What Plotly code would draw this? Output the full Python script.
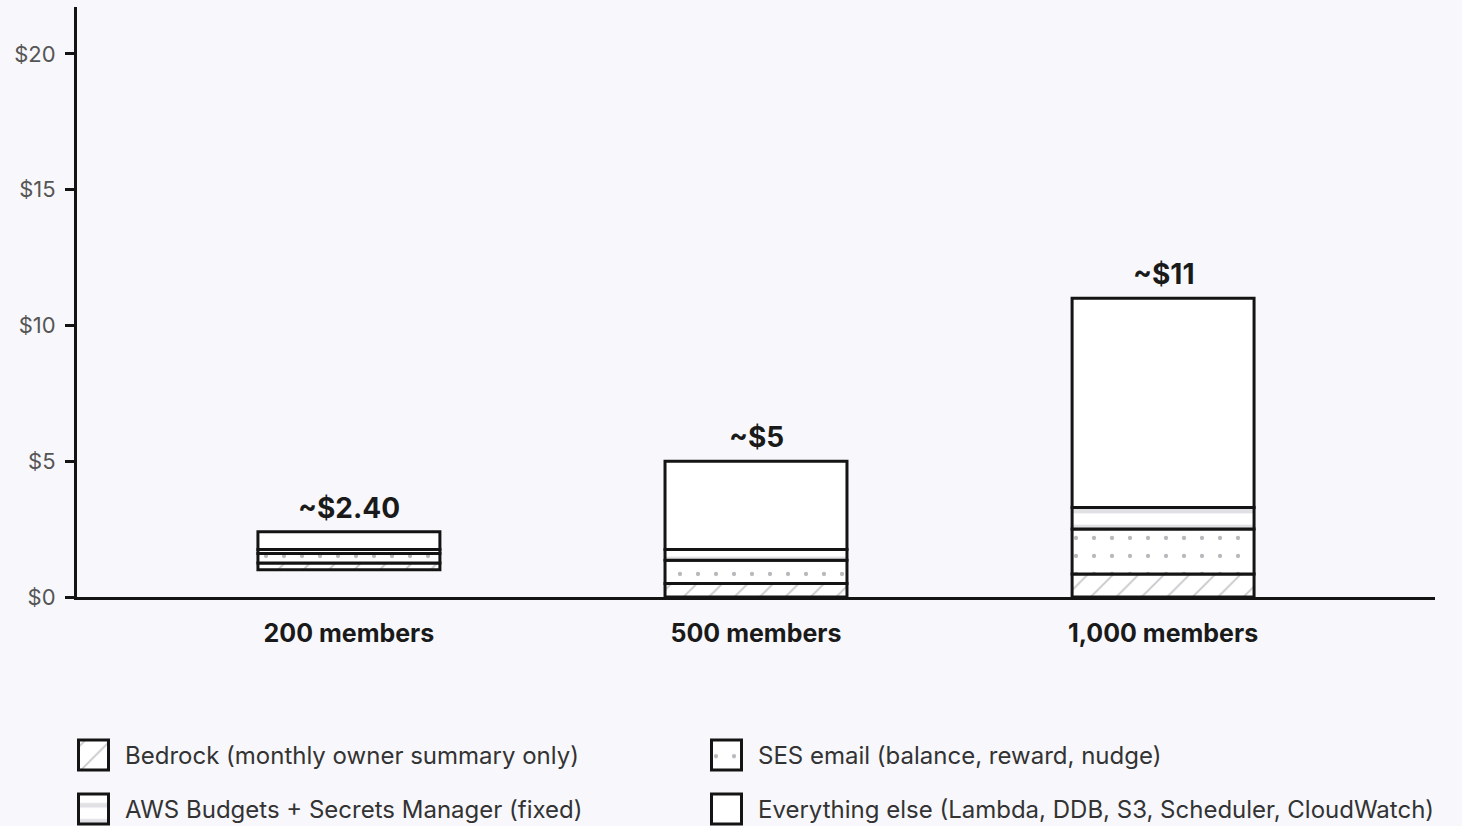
import plotly.graph_objects as go

# ---------------- data ----------------
categories = ["200 members", "500 members", "1,000 members"]
bar_offset = [1.0, 0.0, 0.0]          # the 200-member bar floats above $0 in the source
bedrock = [0.25, 0.50, 0.85]
ses = [0.35, 0.85, 1.65]
aws_fixed = [0.15, 0.40, 0.80]
everything_else = [0.65, 3.25, 7.70]
total_labels = ["~$2.40", "~$5", "~$11"]

series_names = [
    "Bedrock (monthly owner summary only)",
    "SES email (balance, reward, nudge)",
    "AWS Budgets + Secrets Manager (fixed)",
    "Everything else (Lambda, DDB, S3, Scheduler, CloudWatch)",
]
series_values = [bedrock, ses, aws_fixed, everything_else]

y_ticks = [0, 5, 10, 15, 20]
y_tick_labels = ["$0", "$5", "$10", "$15", "$20"]

# ---------------- styles ----------------
BG = "#f8f8fc"
INK = "#141414"
FONT = "Inter"
patterns = [
    dict(shape="/", fgcolor="#8e8e96", bgcolor="white", size=18, solidity=0.1),
    dict(shape=".", fgcolor="#74747c", bgcolor="white", size=18, solidity=0.045),
    dict(shape="-", fgcolor="#c4c4cc", bgcolor="white", size=16, solidity=0.3),
    dict(shape="", fgcolor="white", bgcolor="white"),
]

W, H = 1462, 826
ML, MR, MT, MB = 77, 27, 7, 0
plot_h = H - MT - MB
axis_bottom_px = 597
main_domain_bottom = (H - MB - axis_bottom_px) / plot_h
y_top = 21.73

fig = go.Figure()

# main stacked bars with explicit bases
running = list(bar_offset)
for name, vals, pat in zip(series_names, series_values, patterns):
    fig.add_trace(go.Bar(
        x=categories, y=vals, base=list(running), width=0.447,
        name=name, showlegend=False,
        marker=dict(color="white", pattern=pat, line=dict(color=INK, width=3)),
        xaxis="x", yaxis="y", hoverinfo="skip",
    ))
    running = [r + v for r, v in zip(running, vals)]

# total labels above bars
for cat, tot, lab in zip(categories, running, total_labels):
    fig.add_annotation(x=cat, y=tot, text=f"<b>{lab}</b>", showarrow=False,
                       xref="x", yref="y", yanchor="bottom", yshift=5,
                       font=dict(family=FONT, size=28, color="#1a1a1a"))

# ---------------- custom legend (swatches on a helper axis in pixel units) ----------------
leg_dom_top = 0.25
leg_range_top = leg_dom_top * plot_h
col_x = [77, 710]          # swatch left edges (px)
row_y = [755, 809]         # row centres (px)
sw = 30
for i, (name, pat) in enumerate(zip(series_names, patterns)):
    col, row = i % 2, i // 2
    cx = col_x[col] + 1.5 + sw / 2
    cy = H - row_y[row]
    fig.add_trace(go.Bar(
        x=[cx], y=[sw], base=[cy - sw / 2], width=sw,
        showlegend=False, cliponaxis=False,
        marker=dict(color="white", pattern=pat, line=dict(color=INK, width=3)),
        xaxis="x2", yaxis="y2", hoverinfo="skip",
    ))
    fig.add_annotation(x=col_x[col] + 46, y=cy, text=name, showarrow=False,
                       xref="x2", yref="y2", xanchor="left", yanchor="middle",
                       font=dict(family=FONT, size=24, color="#333333"))

fig.update_layout(
    width=W, height=H,
    margin=dict(l=ML, r=MR, t=MT, b=MB, autoexpand=False),
    paper_bgcolor=BG, plot_bgcolor=BG,
    barmode="overlay", hovermode=False,
    font=dict(family=FONT, color="#333"),
    xaxis=dict(
        domain=[0, 1], range=[-0.668, 2.668], type="category", automargin=False,
        showline=True, linecolor=INK, linewidth=3, showgrid=False, zeroline=False,
        ticks="", tickfont=dict(family=FONT, size=25, color="#1a1a1a", weight="bold"),
        ticklabelstandoff=12, anchor="y",
    ),
    yaxis=dict(
        domain=[main_domain_bottom, 1], range=[0, y_top], automargin=False,
        tickvals=y_ticks, ticktext=y_tick_labels,
        showline=True, linecolor=INK, linewidth=3, showgrid=False, zeroline=False,
        ticks="outside", ticklen=9, tickwidth=3, tickcolor=INK,
        tickfont=dict(family=FONT, size=22, color="#555555"),
        ticklabelstandoff=5, anchor="x",
    ),
    xaxis2=dict(domain=[0, 1], range=[ML, W - MR], visible=False, anchor="y2",
                fixedrange=True, automargin=False),
    yaxis2=dict(domain=[0, leg_dom_top], range=[0, leg_range_top], visible=False, anchor="x2",
                fixedrange=True, automargin=False),
)

fig.write_html("out.html")
